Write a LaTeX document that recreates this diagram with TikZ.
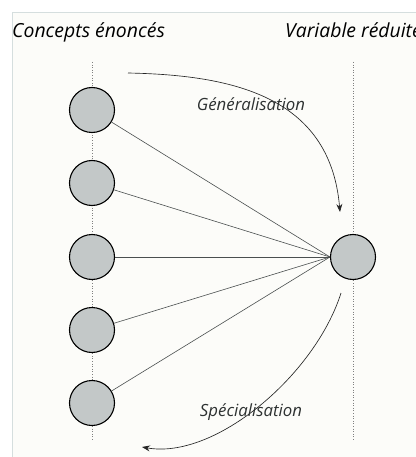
\documentclass[tikz,border=0pt]{standalone}
\usepackage{fontspec}
\setmainfont{Open Sans}
\usetikzlibrary{arrows.meta}
\definecolor{bgc}{HTML}{FCFCF9}
\definecolor{framec}{HTML}{D5DEDE}
\definecolor{circfill}{HTML}{C3C8C8}
\definecolor{linec}{HTML}{4A4F4F}
\definecolor{labc}{HTML}{2E3232}
\begin{document}
\begin{tikzpicture}[x=1pt,y=-1pt,
  concept/.style={circle,draw=black,line width=1.1pt,fill=circfill,minimum size=45pt,inner sep=0pt},
  link/.style={draw=linec,line width=0.6pt},
  axis/.style={draw=gray,dotted,line width=0.6pt},
  curvearrow/.style={draw=black!85,line width=0.65pt,-{Stealth[length=8pt,width=6pt]}},
  title/.style={font=\fontsize{19.4}{23}\selectfont\itshape,anchor=base west,inner sep=0pt},
  lab/.style={font=\fontsize{16.8}{20}\selectfont\itshape,text=labc,inner sep=0pt}]
\useasboundingbox (0,0) rectangle (415,457);
\fill[white] (0,0) rectangle (415,457);
\path[fill=bgc,draw=framec,line width=0.8pt] (12.5,12.5) rectangle (430,470);
\begin{scope}
\clip (0,0) rectangle (415,457);
\node[title] (t1) at (12,38) {Concepts énoncés};
\node[title] (t2) at (285,38) {Variable réduite};
\end{scope}
\coordinate (la) at (92,62);
\coordinate (lb) at (92,440);
\coordinate (ra) at (353,62);
\coordinate (rb) at (353,440);
\draw[axis] (la) -- (lb);
\draw[axis] (ra) -- (rb);
\node[concept] (c1) at (92,110) {};
\node[concept] (c2) at (92,183) {};
\node[concept] (c3) at (92,257) {};
\node[concept] (c4) at (92,330) {};
\node[concept] (c5) at (92,403) {};
\node[concept] (r) at (353,257) {};
\foreach \c in {c1,c2,c3,c4,c5} \draw[link] (\c) -- (r.west);
\coordinate (g0) at (128,73);
\coordinate (g1) at (340,212);
\draw[curvearrow] (g0) .. controls (230,75) and (330,95) .. (g1);
\node[lab] (gl) at (251,104) {Généralisation};
\coordinate (s0) at (341,293);
\coordinate (s1) at (142,447);
\draw[curvearrow] (s0) .. controls (315,375) and (215,460) .. (s1);
\node[lab] (sl) at (251,412) {Spécialisation};
\end{tikzpicture}
\end{document}
